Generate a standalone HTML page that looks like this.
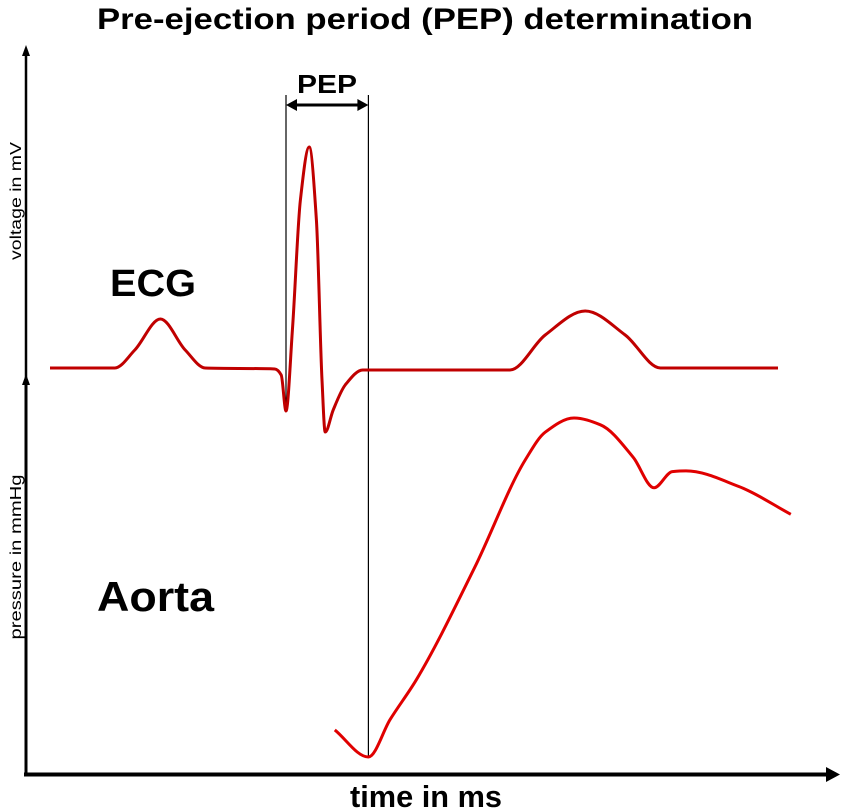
<!DOCTYPE html>
<html><head><meta charset="utf-8"><style>
html,body{margin:0;padding:0;background:#fff;}
svg{display:block;}
text{font-family:"Liberation Sans",sans-serif;font-weight:bold;fill:#000;}
</style></head><body>
<svg id="chart" width="850" height="811" viewBox="0 0 850 811">
  <text x="425" y="29" text-anchor="middle" font-size="30" textLength="656" lengthAdjust="spacingAndGlyphs">Pre-ejection period (PEP) determination</text>
  <line x1="26" y1="378" x2="26" y2="52" stroke="#000" stroke-width="2.5"/>
  <polygon points="26,45 22,56 30,56" fill="#000"/>
  <line x1="26" y1="775" x2="26" y2="382" stroke="#000" stroke-width="3"/>
  <polygon points="26,374 22,385 30,385" fill="#000"/>
  <line x1="24" y1="774.5" x2="828" y2="774.5" stroke="#000" stroke-width="4"/>
  <polygon points="840,774.5 826,767 826,782" fill="#000"/>
  <text transform="translate(21,201) rotate(-90)" text-anchor="middle" font-size="16" style="font-weight:normal" textLength="118" lengthAdjust="spacingAndGlyphs">voltage in mV</text>
  <text transform="translate(21,557) rotate(-90)" text-anchor="middle" font-size="16" style="font-weight:normal" textLength="165" lengthAdjust="spacingAndGlyphs">pressure in mmHg</text>
  <text x="350" y="807" font-size="31" textLength="152" lengthAdjust="spacingAndGlyphs">time in ms</text>
  <text x="110" y="296" font-size="38" textLength="86" lengthAdjust="spacingAndGlyphs">ECG</text>
  <text x="97" y="611" font-size="42" textLength="117" lengthAdjust="spacingAndGlyphs">Aorta</text>
  <text x="327" y="93" text-anchor="middle" font-size="26" textLength="60" lengthAdjust="spacingAndGlyphs">PEP</text>
  <g id="marks"></g>
</svg>
<script>
const ecgTime = [30,111,136,168,199,224,311,319,325,333,343,354,363,370,374,384,399,421,605,649,699,749,793,940];
const ecgVoltage = [0,0,0.09,0.245,0.09,0,-0.005,-0.035,-0.215,0.19,0.84,1.105,0.74,-0.06,-0.32,-0.21,-0.085,-0.01,-0.01,0.165,0.285,0.165,0,0];
const aortaTime = [386,428,455,488,561,624,649,685,718,759,785,808,825,891,956];
const aortaPressure = [74,70,75.5,81.4,98,113.8,117.9,120,119,114.2,109.7,112.1,112.2,109.9,105.8];
const pepStart = 325;
const pepEnd = 428;

const xScale = t => 26 + t * 0.8;
const yEcg = v => 368 - v * 200;
const yAorta = p => 757 - (p - 70) * 6.78;

function smoothPath(pts){
  const n = pts.length, d = [], m = [];
  for (let i = 0; i < n-1; i++) d.push((pts[i+1][1]-pts[i][1])/(pts[i+1][0]-pts[i][0]));
  m[0] = d[0]; m[n-1] = d[n-2];
  for (let i = 1; i < n-1; i++){
    if (d[i-1]*d[i] <= 0) m[i] = 0;
    else {
      const h0 = pts[i][0]-pts[i-1][0], h1 = pts[i+1][0]-pts[i][0];
      const w1 = 2*h1 + h0, w2 = h1 + 2*h0;
      m[i] = (w1+w2)/(w1/d[i-1] + w2/d[i]);
    }
  }
  let s = 'M' + pts[0][0].toFixed(1) + ',' + pts[0][1].toFixed(1);
  for (let i = 0; i < n-1; i++){
    const h = (pts[i+1][0]-pts[i][0])/3;
    s += ' C' + (pts[i][0]+h).toFixed(1) + ',' + (pts[i][1]+m[i]*h).toFixed(1) + ' ' +
      (pts[i+1][0]-h).toFixed(1) + ',' + (pts[i+1][1]-m[i+1]*h).toFixed(1) + ' ' +
      pts[i+1][0].toFixed(1) + ',' + pts[i+1][1].toFixed(1);
  }
  return s;
}
const NS = 'http://www.w3.org/2000/svg';
const g = document.getElementById('marks');

const l1 = document.createElementNS(NS,'line');
l1.setAttribute('x1', xScale(pepStart)); l1.setAttribute('x2', xScale(pepStart));
l1.setAttribute('y1', 95); l1.setAttribute('y2', 412);
l1.setAttribute('stroke','#000'); l1.setAttribute('stroke-width','1.2');


g.appendChild(l1);
const l2 = document.createElementNS(NS,'line');
l2.setAttribute('x1', xScale(pepEnd)); l2.setAttribute('x2', xScale(pepEnd));
l2.setAttribute('y1', 95); l2.setAttribute('y2', 757);
l2.setAttribute('stroke','#000'); l2.setAttribute('stroke-width','1.2');


g.appendChild(l2);
const a = document.createElementNS(NS,'g');
const xa = xScale(pepStart), xb = xScale(pepEnd);
a.innerHTML = '<line x1="'+(xa+8)+'" y1="105" x2="'+(xb-8)+'" y2="105" stroke="#000" stroke-width="3"/>' +
  '<polygon points="'+xa+',105 '+(xa+11)+',99 '+(xa+11)+',111" fill="#000"/>' +
  '<polygon points="'+xb+',105 '+(xb-11)+',99 '+(xb-11)+',111" fill="#000"/>';


g.appendChild(a);

const ecg = document.createElementNS(NS,'path');
ecg.setAttribute('d', smoothPath(ecgTime.map((t,i)=>[xScale(t), yEcg(ecgVoltage[i])])));
ecg.setAttribute('fill','none'); ecg.setAttribute('stroke','#c00000'); ecg.setAttribute('stroke-width','3');
ecg.setAttribute('stroke-linejoin','round');


g.appendChild(ecg);

const ao = document.createElementNS(NS,'path');
ao.setAttribute('d', smoothPath(aortaTime.map((t,i)=>[xScale(t), yAorta(aortaPressure[i])])));
ao.setAttribute('fill','none'); ao.setAttribute('stroke','#e00000'); ao.setAttribute('stroke-width','3');
ao.setAttribute('stroke-linejoin','round');


g.appendChild(ao);
</script>
</body></html>
